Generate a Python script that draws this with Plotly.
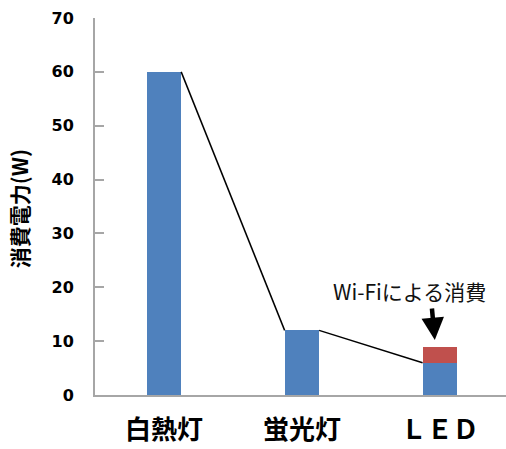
import plotly.graph_objects as go

# Power consumption by lighting type (W)
categories = ["白熱灯", "蛍光灯", "ＬＥＤ"]
lamp_power = [60, 12, 6]
wifi_power = [0, 0, 3]
y_ticks = [0, 10, 20, 30, 40, 50, 60, 70]

BAR_W = 0.25
BLUE = "#4F81BD"
RED = "#C0504D"
AXIS = "#a6a6a6"
JP = "Noto Sans CJK JP"

xs = list(range(len(categories)))

fig = go.Figure()
fig.add_bar(x=xs, y=lamp_power, width=BAR_W, marker=dict(color=BLUE, line=dict(width=0)),
            showlegend=False)
fig.add_bar(x=xs, y=wifi_power, width=BAR_W, marker=dict(color=RED, line=dict(width=0)),
            showlegend=False)

# series lines joining the top of each lamp bar to the next one
for i in range(len(xs) - 1):
    fig.add_scatter(
        x=[xs[i] + BAR_W / 2, xs[i + 1] - BAR_W / 2],
        y=[lamp_power[i], lamp_power[i + 1]],
        mode="lines", line=dict(color="black", width=1.5),
        showlegend=False, hoverinfo="skip",
    )

fig.update_layout(
    width=506, height=449,
    margin=dict(l=95, r=0, t=18, b=54),
    paper_bgcolor="white", plot_bgcolor="white",
    barmode="stack", bargap=0,
    xaxis=dict(
        range=[-0.5, 2.48], tickvals=xs, ticktext=categories,
        showline=True, linecolor=AXIS, linewidth=2, showgrid=False, zeroline=False,
        ticks="", ticklabelstandoff=11, automargin=False,
        tickfont=dict(family=JP, size=26, color="black", weight="bold"),
    ),
    yaxis=dict(
        range=[0, 70], tickvals=y_ticks,
        showline=True, linecolor=AXIS, linewidth=2, showgrid=False, zeroline=False,
        ticks="inside", ticklen=9, tickcolor=AXIS, tickwidth=1.5,
        ticklabelstandoff=16, automargin=False,
        tickfont=dict(family="DejaVu Sans", size=16, color="black", weight="bold"),
    ),
)

# y-axis title
fig.add_annotation(
    text="消費電力(W)", textangle=-90, showarrow=False,
    xref="paper", x=0, xanchor="center", xshift=-76,
    yref="y", y=34.5, yanchor="middle",
    font=dict(family=JP, size=21, color="black", weight="bold"),
)

# Wi-Fi label and arrow
fig.add_annotation(
    text="Wi-Fiによる消費", showarrow=False,
    xref="x", x=2, xanchor="center", xshift=-30,
    yref="y", y=19.3, yanchor="middle",
    font=dict(family=JP, size=21, color="#111111"),
)
fig.add_annotation(
    text="", showarrow=True, arrowhead=2, arrowsize=1, arrowwidth=4.5, arrowcolor="black",
    xref="x", x=2, xshift=-5, yref="y", y=10.2,
    ax=-3, ay=-33,
)

fig.write_html("out.html")
